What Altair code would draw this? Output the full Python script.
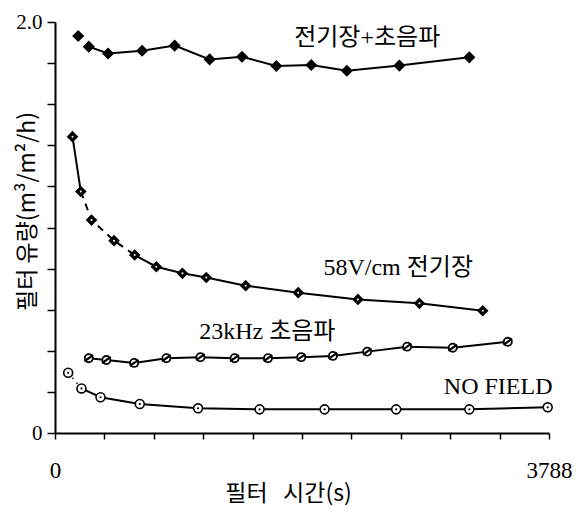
import altair as alt
import pandas as pd

# ---- data ----
combo_t = [178, 259, 407, 668, 918, 1186, 1434, 1697, 1965, 2238, 2641, 3177]
combo_v = [1.932, 1.880, 1.847, 1.860, 1.885, 1.818, 1.831, 1.786, 1.791, 1.763, 1.788, 1.828]

efield_t = [134, 198, 280, 453, 611, 777, 977, 1160, 1462, 1865, 2323, 2794, 3280]
efield_v = [1.442, 1.175, 1.036, 0.936, 0.866, 0.809, 0.777, 0.757, 0.717, 0.683, 0.650, 0.631, 0.595]

ultra_t = [259, 394, 607, 854, 1115, 1377, 1633, 1888, 2131, 2394, 2700, 3050, 3472]
ultra_v = [0.364, 0.355, 0.341, 0.364, 0.369, 0.364, 0.364, 0.369, 0.375, 0.396, 0.420, 0.415, 0.444]

nofield_t = [101, 203, 349, 650, 1097, 1569, 2067, 2616, 3177, 3778]
nofield_v = [0.293, 0.217, 0.174, 0.141, 0.120, 0.115, 0.115, 0.115, 0.115, 0.125]

label_text = ["전기장+초음파", "58V/cm 전기장", "23kHz 초음파", "NO FIELD"]
label_t = [2394, 2632, 1628, 3398]
label_v = [1.922, 0.803, 0.491, 0.224]

x_ticks = [round(i * 378.8, 1) for i in range(11)]
y_ticks = [round(i * 0.2, 1) for i in range(11)]


def seg_rows(t, v, ranges, style, name):
    rows = []
    for k, (a, b) in enumerate(ranges):
        for i in range(a, b + 1):
            rows.append(dict(t=t[i], v=v[i], seg=f"{name}-{style}-{k}", style=style))
    return rows


line_rows = []
line_rows += seg_rows(combo_t, combo_v, [(1, len(combo_t) - 1)], "solid", "combo")
line_rows += seg_rows(efield_t, efield_v, [(0, 1), (4, len(efield_t) - 1)], "solid", "ef")
line_rows += seg_rows(efield_t, efield_v, [(1, 4)], "dashed", "ef")
line_rows += seg_rows(ultra_t, ultra_v, [(0, len(ultra_t) - 1)], "solid", "us")
line_rows += seg_rows(nofield_t, nofield_v, [(0, 1)], "dotted", "nf")
line_rows += seg_rows(nofield_t, nofield_v, [(1, len(nofield_t) - 1)], "solid", "nf")
lines_df = pd.DataFrame(line_rows)

combo_df = pd.DataFrame({"t": combo_t, "v": combo_v})
ef_df = pd.DataFrame({"t": efield_t, "v": efield_v})
us_df = pd.DataFrame({"t": ultra_t, "v": ultra_v})
nf_df = pd.DataFrame({"t": nofield_t, "v": nofield_v})
lab_df = pd.DataFrame({"t": label_t, "v": label_v, "text": label_text})

x_enc = alt.X(
    "t:Q",
    scale=alt.Scale(domain=[0, 3788], nice=False, zero=False),
    axis=alt.Axis(
        values=x_ticks,
        labelExpr="datum.value == 0 ? '0' : (datum.value >= 3787 ? '3788' : '')",
        labelFlush=False,
        labelFont="Liberation Serif",
        labelFontSize=23,
        labelColor="black",
        labelPadding=20,
        tickSize=6,
        tickWidth=1.5,
        tickColor="black",
        domainColor="black",
        domainWidth=2,
        grid=False,
        title="필터\u00a0\u00a0\u00a0시간(s)",
        titleFont="Noto Sans CJK KR",
        titleFontSize=23,
        titleFontWeight="normal",
        titleColor="black",
        titleX=233,
        titleY=60,
        titleAlign="center",
        titleBaseline="middle",
    ),
)
y_enc = alt.Y(
    "v:Q",
    scale=alt.Scale(domain=[0, 2.0], nice=False),
    axis=alt.Axis(
        values=y_ticks,
        labelExpr="datum.value == 0 ? '0' : (datum.value >= 1.99 ? '2.0' : '')",
        labelFont="Liberation Serif",
        labelFontSize=21,
        labelColor="black",
        labelPadding=5,
        tickSize=8,
        tickWidth=1.5,
        tickColor="black",
        domainColor="black",
        domainWidth=2,
        grid=False,
        title="필터\u00a0유량(m³/m²/h)",
        titleFont="Noto Sans CJK KR",
        titleFontSize=23,
        titleFontWeight="normal",
        titleColor="black",
        titleX=-28,
        titleY=189,
        titleAlign="center",
        titleBaseline="middle",
    ),
)

base_lines = alt.Chart(lines_df)
solid = base_lines.mark_line(color="black", strokeWidth=2).encode(
    x=x_enc, y=y_enc, detail="seg:N"
).transform_filter(alt.datum.style == "solid")
dashed = base_lines.mark_line(color="black", strokeWidth=2, strokeDash=[7, 6]).encode(
    x=x_enc, y=y_enc, detail="seg:N"
).transform_filter(alt.datum.style == "dashed")
dotted = base_lines.mark_line(color="black", strokeWidth=1.5, strokeDash=[1.5, 5]).encode(
    x=x_enc, y=y_enc, detail="seg:N"
).transform_filter(alt.datum.style == "dotted")

combo_pts = alt.Chart(combo_df).mark_point(
    shape="diamond", fill="black", stroke="black", strokeWidth=1.5, size=100, opacity=1, fillOpacity=1
).encode(x=x_enc, y=y_enc)

ef_pts = alt.Chart(ef_df).mark_point(
    shape="diamond", fill="black", stroke="black", strokeWidth=1.5, size=90, opacity=1, fillOpacity=1
).encode(x=x_enc, y=y_enc)
ef_dots = alt.Chart(ef_df).mark_point(
    shape="circle", fill="white", stroke="white", strokeWidth=0, size=4, opacity=1, fillOpacity=1
).encode(x=x_enc, y=y_enc)

us_pts = alt.Chart(us_df).mark_point(
    shape="circle", fill="white", stroke="black", strokeWidth=1.8, size=65, opacity=1, fillOpacity=1
).encode(x=x_enc, y=y_enc)
us_slash = alt.Chart(us_df).mark_point(
    shape="M-1,0.7L1,-0.7", filled=False, color="black", strokeWidth=2.2, size=75, opacity=1
).encode(x=x_enc, y=y_enc)

nf_pts = alt.Chart(nf_df).mark_point(
    shape="circle", fill="white", stroke="black", strokeWidth=1.6, size=80, opacity=1, fillOpacity=1
).encode(x=x_enc, y=y_enc)
nf_dots = alt.Chart(nf_df).mark_point(
    shape="circle", fill="black", stroke="black", strokeWidth=0, size=5, opacity=1, fillOpacity=1
).encode(x=x_enc, y=y_enc)

labels = alt.Chart(lab_df).mark_text(
    font="Liberation Serif, Noto Sans CJK KR",
    fontSize=24,
    color="black",
    align="center",
    baseline="middle",
).encode(x=x_enc, y=y_enc, text="text:N")

chart = alt.layer(
    solid, dashed, dotted,
    combo_pts, ef_pts, ef_dots, us_pts, us_slash, nf_pts, nf_dots,
    labels,
).properties(
    width=494,
    height=411,
    autosize=alt.AutoSizeParams(type="none"),
    padding={"left": 47, "top": 14, "right": 25, "bottom": 80},
    background="white",
).configure_view(stroke=None)

chart.save("out.html", embed_options={"renderer": "svg", "actions": False})
